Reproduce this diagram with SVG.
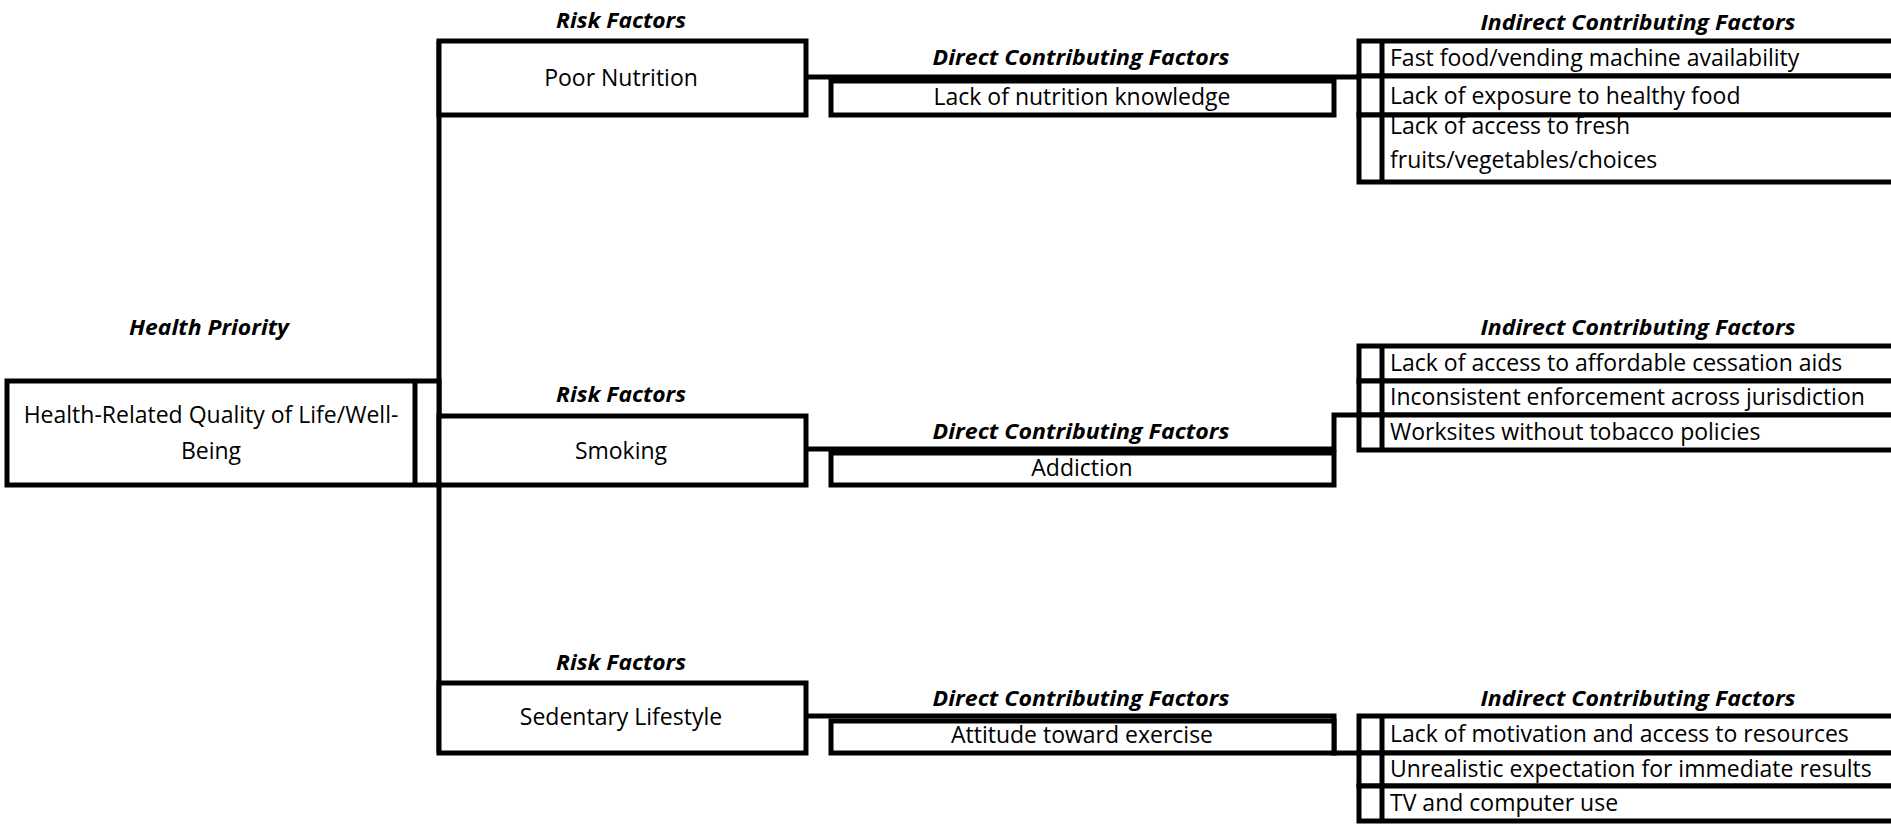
<svg xmlns="http://www.w3.org/2000/svg" width="1891" height="825" viewBox="0 0 1891 825">
<style>
.box{fill:#fff;stroke:#000;stroke-width:5}
.ln{fill:none;stroke:#000;stroke-width:5}
.t{font-family:"Open Sans","Liberation Sans",sans-serif;font-size:23px;fill:#000;dominant-baseline:central}
.c{text-anchor:middle}
.h{font-family:"Open Sans","Liberation Sans",sans-serif;font-size:21px;font-weight:bold;font-style:italic;fill:#000;text-anchor:middle;dominant-baseline:central}
</style>
<rect width="1891" height="825" fill="#fff"/>
<g id="labels">
<text class="h" x="209" y="327" textLength="160" lengthAdjust="spacingAndGlyphs">Health Priority</text>
<text class="h" x="621" y="20" textLength="130" lengthAdjust="spacingAndGlyphs">Risk Factors</text>
<text class="h" x="621" y="394" textLength="130" lengthAdjust="spacingAndGlyphs">Risk Factors</text>
<text class="h" x="621" y="662" textLength="130" lengthAdjust="spacingAndGlyphs">Risk Factors</text>
<text class="h" x="1081" y="57" textLength="297" lengthAdjust="spacingAndGlyphs">Direct Contributing Factors</text>
<text class="h" x="1081" y="431" textLength="297" lengthAdjust="spacingAndGlyphs">Direct Contributing Factors</text>
<text class="h" x="1081" y="698" textLength="297" lengthAdjust="spacingAndGlyphs">Direct Contributing Factors</text>
<text class="h" x="1638" y="22" textLength="315" lengthAdjust="spacingAndGlyphs">Indirect Contributing Factors</text>
<text class="h" x="1638" y="327" textLength="315" lengthAdjust="spacingAndGlyphs">Indirect Contributing Factors</text>
<text class="h" x="1638" y="698" textLength="315" lengthAdjust="spacingAndGlyphs">Indirect Contributing Factors</text>
</g>
<g id="connectors">
<path class="ln" d="M439,41 V753"/>
<path class="ln" d="M806,77 H1359"/>
<path class="ln" d="M806,449 H1334 V415 H1359"/>
<path class="ln" d="M806,716 H1334 V753 H1359"/>
</g>
<g id="health">
<rect class="box" x="7" y="381" width="432" height="104"/>
<path class="ln" d="M415,381 V485"/>
<text class="t c" x="211" y="414">Health-Related Quality of Life/Well-</text>
<text class="t c" x="211" y="450">Being</text>
</g>
<g id="risk-nutrition">
<rect class="box" x="439" y="41" width="367" height="74"/>
<text class="t c" x="621" y="77">Poor Nutrition</text>
</g>
<g id="risk-smoking">
<rect class="box" x="439" y="416" width="367" height="69"/>
<text class="t c" x="621" y="450">Smoking</text>
</g>
<g id="risk-sedentary">
<rect class="box" x="439" y="683" width="367" height="70"/>
<text class="t c" x="621" y="716">Sedentary Lifestyle</text>
</g>
<g id="direct-nutrition">
<rect class="box" x="831" y="81" width="503" height="34"/>
<text class="t c" x="1082" y="96">Lack of nutrition knowledge</text>
</g>
<g id="direct-smoking">
<rect class="box" x="831" y="453" width="503" height="32"/>
<text class="t c" x="1082" y="467">Addiction</text>
</g>
<g id="direct-sedentary">
<rect class="box" x="831" y="721" width="503" height="32"/>
<text class="t c" x="1082" y="734">Attitude toward exercise</text>
</g>
<g id="indirect-nutrition">
<rect class="box" x="1359" y="41" width="560" height="35"/>
<rect class="box" x="1359" y="76" width="560" height="39"/>
<rect class="box" x="1359" y="115" width="560" height="67"/>
<path class="ln" d="M1382,41 V182"/>
<text class="t" x="1390" y="57">Fast food/vending machine availability</text>
<text class="t" x="1390" y="95">Lack of exposure to healthy food</text>
<text class="t" x="1390" y="125">Lack of access to fresh</text>
<text class="t" x="1390" y="159">fruits/vegetables/choices</text>
</g>
<g id="indirect-smoking">
<rect class="box" x="1359" y="346" width="560" height="35"/>
<rect class="box" x="1359" y="381" width="560" height="34"/>
<rect class="box" x="1359" y="415" width="560" height="35"/>
<path class="ln" d="M1382,346 V450"/>
<text class="t" x="1390" y="362">Lack of access to affordable cessation aids</text>
<text class="t" x="1390" y="396">Inconsistent enforcement across jurisdiction</text>
<text class="t" x="1390" y="431">Worksites without tobacco policies</text>
</g>
<g id="indirect-sedentary">
<rect class="box" x="1359" y="716" width="560" height="37"/>
<rect class="box" x="1359" y="753" width="560" height="33"/>
<rect class="box" x="1359" y="786" width="560" height="35"/>
<path class="ln" d="M1382,716 V821"/>
<text class="t" x="1390" y="733">Lack of motivation and access to resources</text>
<text class="t" x="1390" y="768">Unrealistic expectation for immediate results</text>
<text class="t" x="1390" y="802">TV and computer use</text>
</g>
</svg>
